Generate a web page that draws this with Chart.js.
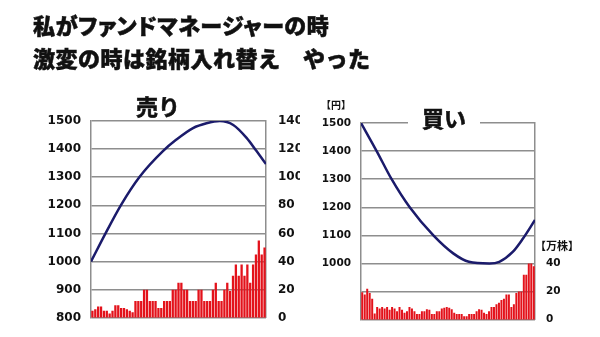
<!DOCTYPE html>
<html>
<head>
<meta charset="utf-8">
<script src="https://cdn.jsdelivr.net/npm/chart.js@4.4.1/dist/chart.umd.min.js"></script>
<style>
    body { margin: 0; background: #fff; }
    #wrap { position: relative; width: 600px; height: 337px; overflow: hidden; background: #fff; }
    .cv { position: absolute; top: 0; }
    .ttl { position: absolute; left: 33px; font-family: "Noto Sans CJK JP"; font-weight: 900; font-size: 22px; color: #111; white-space: pre; line-height: 1; -webkit-text-stroke: 0.5px #111; }
    #t1 { top: 13px; font-feature-settings: "palt"; letter-spacing: 0.6px; }
    #t2 { top: 46px; letter-spacing: 0.5px; }
</style>
</head>
<body>
<div id="wrap">
    <canvas id="Chart_sell" class="cv" width="300" height="337" style="left:0px"></canvas>
    <canvas id="Chart_buy" class="cv" width="300" height="337" style="left:300px"></canvas>
    <div id="t1" class="ttl">私がファンドマネージャーの時</div>
    <div id="t2" class="ttl">激変の時は銘柄入れ替え　やった</div>
</div>
<script>
// 売り : price curve (position along the period 0..1, yen) and daily volume
var sellT = [0, 0.086, 0.172, 0.277, 0.411, 0.488, 0.583, 0.66, 0.736, 0.813, 0.889, 0.946, 1];
var sellPrice = [1000, 1104, 1202, 1301, 1393, 1434, 1475, 1492, 1500, 1486, 1440, 1393, 1347];
var sellVolume = [5, 6, 8, 8, 5, 5, 3, 5, 9, 9, 7, 7, 6, 5, 4, 12, 12, 12, 20, 20,
    12, 12, 12, 7, 7, 12, 12, 12, 20, 20, 25, 25, 20, 20, 12, 12, 12, 20, 20, 12,
    12, 12, 20, 25, 12, 12, 20, 25, 19, 30, 38, 30, 38, 30, 38, 25, 38, 45, 55, 45, 50];

// 買い
var buyT = [0, 0.09, 0.176, 0.28, 0.416, 0.53, 0.62, 0.738, 0.795, 0.872, 0.93, 1];
var buyPrice = [1500, 1400, 1300, 1200, 1100, 1036, 1006, 1000, 1006, 1041, 1088, 1155];
var buyVolume = [19.5, 18, 22, 19, 15, 4.5, 9, 8, 9, 8, 9, 7, 9, 8, 6, 9, 7, 5, 6, 9,
    8, 6, 4, 4, 6, 6, 7.5, 7, 4, 4, 6, 6, 8, 8.5, 9, 8.5, 7.5, 5, 4, 4,
    4, 2.5, 2.5, 4, 4, 4, 6, 7.5, 7, 5, 4, 6, 9, 9, 11, 12, 14, 15, 18, 18,
    9, 11, 19, 20, 20, 32, 32, 40, 40, 38];

// axis ranges / tick steps
var priceMin = 800, priceMax = 1500, priceStep = 100;
var volMin = 0, volMax = 140, volStep = 20;

var gridColor = "#8e8e8e";
var lineColor = "#1b1b6b";
var barColor = "#e3121b";
var textColor = "#111";


function fPoints(tArr, vArr) {
    var pts = [];
    for (var i = 0; i < tArr.length; i++) { pts.push({ x: tArr[i], y: vArr[i] }); }
    return pts;
}

// text drawn on the canvas after the chart (titles, units)
function fTextPlugin(items) {
    return {
        id: 'chartText',
        afterDraw: function (chart) {
            var ctx = chart.ctx;
            ctx.save();
            for (var i = 0; i < items.length; i++) {
                var it = items[i];
                ctx.font = it.font;
                ctx.textAlign = "center";
                ctx.textBaseline = "middle";
                if (it.blank) {
                    var w = ctx.measureText(it.text).width;
                    ctx.fillStyle = "#fff";
                    ctx.fillRect(it.x - w / 2 - it.blank, it.y - 8, w + it.blank * 2, 16);
                }
                ctx.fillStyle = textColor;
                ctx.fillText(it.text, it.x, it.y);
                if (it.stroke) {
                    ctx.lineWidth = it.stroke; ctx.strokeStyle = textColor;
                    ctx.strokeText(it.text, it.x, it.y);
                }
            }
            ctx.restore();
        }
    };
}

function fChart(LayerName, tArr, priceArr, volArr, cfg) {
    var ctx = document.getElementById('Chart_' + LayerName);
    var labels = [];
    for (var j = 0; j < volArr.length; j++) { labels[j] = j + 1; }

    var tickFont = { family: "DejaVu Sans", weight: "bold", size: cfg.fontSize };

    var chart = new Chart(ctx, {
        type: 'bar',
        data: {
            labels: labels,
            datasets: [
                {
                    type: 'line', data: fPoints(tArr, priceArr), xAxisID: 'xl', yAxisID: 'y',
                    borderColor: lineColor, borderWidth: 2.5, pointRadius: 0,
                    cubicInterpolationMode: 'monotone', order: 0
                },
                {
                    // grouped:false, otherwise the line counts as a second bar slot
                    type: 'bar', data: volArr, xAxisID: 'x', yAxisID: 'y2', grouped: false,
                    backgroundColor: barColor, barPercentage: 0.8, categoryPercentage: 1, order: 1
                }
            ]
        },
        options: {
            responsive: false,
            animation: false,
            devicePixelRatio: 1,
            layout: { padding: { top: cfg.top, bottom: cfg.bottom, left: 0, right: 0 } },
            plugins: { legend: { display: false }, tooltip: { enabled: false } },
            scales: {
                x: { type: 'category', display: false, offset: true },
                xl: { type: 'linear', display: false, offset: false, min: 0, max: 1 },
                y: {
                    position: 'left', min: priceMin, max: priceMax,
                    ticks: {
                        stepSize: priceStep, font: tickFont, color: textColor, padding: cfg.padL,
                        callback: function (v) { return v >= cfg.priceLabelFrom ? v : ""; }
                    },
                    grid: { color: gridColor, lineWidth: 1.5, drawTicks: false },
                    border: { display: true, color: gridColor, width: 1.5 },
                    afterFit: function (s) { s.width = cfg.leftW; }
                },
                y2: {
                    position: 'right', min: volMin, max: volMax,
                    ticks: {
                        stepSize: volStep, font: tickFont, color: textColor, padding: cfg.padR,
                        callback: function (v) { return v <= cfg.volLabelTo ? v : ""; }
                    },
                    grid: { display: false, drawTicks: false },
                    border: { display: true, color: gridColor, width: 1.5 },
                    afterFit: function (s) { s.width = cfg.rightW; }
                }
            }
        },
        plugins: [fTextPlugin(cfg.texts)]
    });
    return chart;
}

fChart("sell", sellT, sellPrice, sellVolume, {
    top: 121, bottom: 15, leftW: 91, rightW: 34, padL: 10, padR: 12, fontSize: 12,
    priceLabelFrom: 800, volLabelTo: 140,
    texts: [
        { text: "売り", x: 158, y: 107, font: "bold 22px 'Noto Sans CJK JP'", stroke: 0.6 }
    ]
});

fChart("buy", buyT, buyPrice, buyVolume, {
    top: 123, bottom: 14, leftW: 61, rightW: 65, padL: 10, padR: 11, fontSize: 10.5,
    priceLabelFrom: 1000, volLabelTo: 40,
    texts: [
        { text: "買い", x: 144, y: 119, font: "bold 22px 'Noto Sans CJK JP'", blank: 14, stroke: 0.6 },
        { text: "【円】", x: 36, y: 105, font: "bold 10px 'Noto Sans CJK JP'" },
        { text: "【万株】", x: 257, y: 246, font: "bold 11px 'Noto Sans CJK JP'" }
    ]
});
</script>
</body>
</html>
